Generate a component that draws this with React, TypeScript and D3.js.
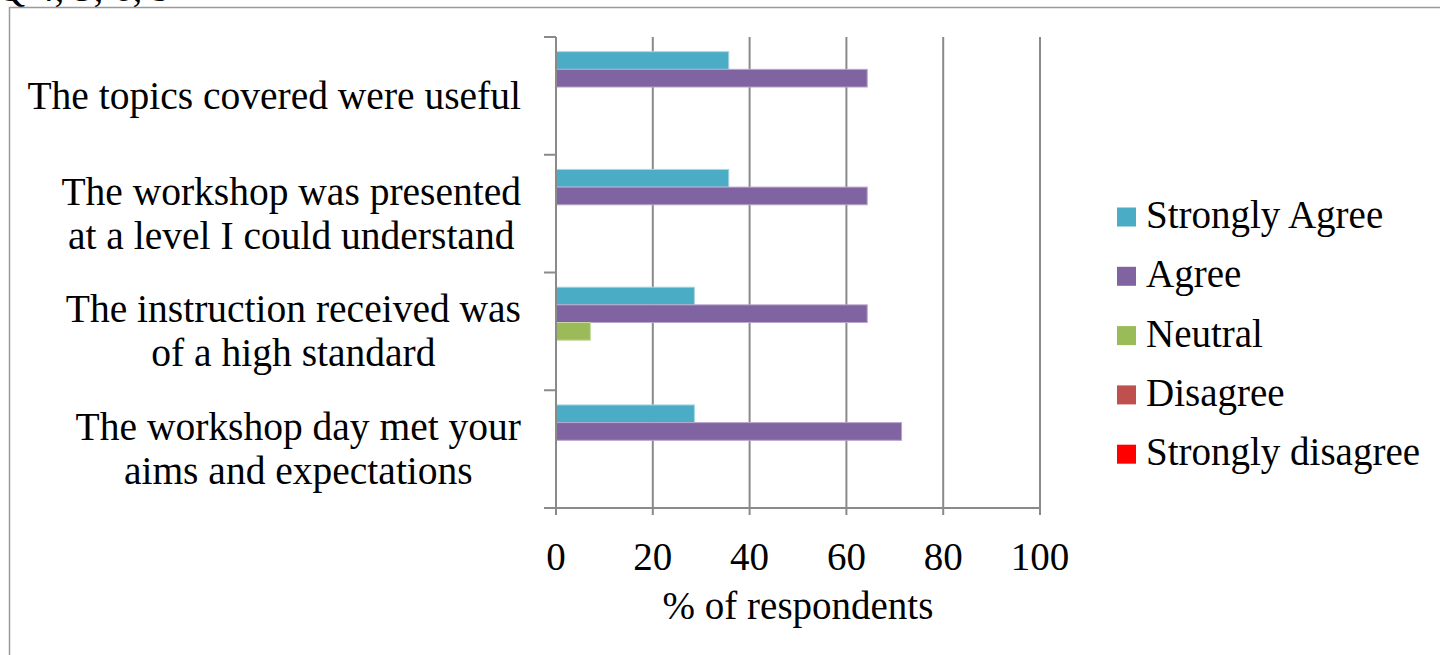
import React from "react";
import * as d3 from "d3";

// Survey statements (top to bottom) and response shares in % of respondents
const categories = [
  ["The topics covered were useful"],
  ["The workshop was presented", "at a level I could understand"],
  ["The instruction received was", "of a high standard"],
  ["The workshop day met your", "aims and expectations"],
];
const seriesNames = ["Strongly Agree", "Agree", "Neutral", "Disagree", "Strongly disagree"];
const seriesColors = ["#4BACC6", "#8064A2", "#9BBB59", "#C0504D", "#FF0000"];
const seriesStrokes = ["#a8d6e3", "#b6a6cc", "#c6d9a2", "#dea5a3", "#ff9a9a"];
const stronglyAgree = [35.7, 35.7, 28.6, 28.6];
const agree = [64.3, 64.3, 64.3, 71.4];
const neutral = [0, 0, 7.1, 0];
const disagree = [0, 0, 0, 0];
const stronglyDisagree = [0, 0, 0, 0];
const xTicks = [0, 20, 40, 60, 80, 100];

const values = [stronglyAgree, agree, neutral, disagree, stronglyDisagree];
const FONT = "'Liberation Serif', 'Times New Roman', serif";
const FS = 39;
const CAT_FS = 39.5;
const AXIS = "#8a8a8a";
const AXIS_W = 2;

// width of a line of text in the label font, used to centre wrapped lines
function measure(text: string, size: number): number {
  const canvas = document.createElement("canvas");
  const ctx = canvas.getContext("2d");
  if (!ctx) return text.length * size * 0.42;
  ctx.font = `${size}px 'Liberation Serif'`;
  return ctx.measureText(text).width;
}

export default function App() {
  const W = 1443;
  const H = 655;
  const x = d3.scaleLinear().domain([0, 100]).range([556, 1040]);
  const catKeys = categories.map((_, i) => String(i));
  const y = d3.scaleBand<string>().domain(catKeys).range([37, 508]).paddingInner(0).paddingOuter(0);
  const inner = d3
    .scaleBand<string>()
    .domain(seriesNames)
    .range([0, y.bandwidth()])
    .paddingInner(0)
    .paddingOuter(0.83);

  const bottom = 508;
  const lineH = 44;
  const labelRight = 521;

  return (
    <svg
      width={W}
      height={H}
      style={{ position: "absolute", left: 0, top: 0, background: "#fff" }}
      fontFamily={FONT}
    >
      {/* heading running off the top of the page */}
      <text x={-3} y={1} fontSize={FS} fill="#000">Q 4, 5, 6, 9</text>

      {/* outer frame */}
      <line x1={9} x2={1440} y1={7.5} y2={7.5} stroke="#9a9a9a" strokeWidth={1.5} />
      <line x1={9.5} x2={9.5} y1={7} y2={H} stroke="#9a9a9a" strokeWidth={1.5} />

      {/* vertical gridlines */}
      {xTicks.slice(1).map((t) => (
        <line key={"g" + t} x1={x(t)} x2={x(t)} y1={37} y2={bottom} stroke={AXIS} strokeWidth={AXIS_W} />
      ))}

      {/* bars */}
      {categories.map((_, ci) =>
        seriesNames.map((s, si) => {
          const v = values[si][ci];
          if (!v) return null;
          const top = (y(String(ci)) as number) + (inner(s) as number);
          return (
            <rect
              key={ci + "-" + si}
              x={x(0)}
              y={top}
              width={x(v) - x(0)}
              height={inner.bandwidth()}
              fill={seriesColors[si]}
              stroke={seriesStrokes[si]}
              strokeWidth={1}
            />
          );
        })
      )}

      {/* category axis */}
      <line x1={x(0)} x2={x(0)} y1={37} y2={bottom + 7} stroke={AXIS} strokeWidth={AXIS_W} />
      {catKeys.concat(["end"]).map((k, i) => {
        const yy = i < catKeys.length ? (y(k) as number) : bottom;
        return <line key={"yt" + i} x1={544} x2={x(0)} y1={yy} y2={yy} stroke={AXIS} strokeWidth={AXIS_W} />;
      })}

      {/* value axis */}
      <line x1={544} x2={x(100)} y1={bottom} y2={bottom} stroke={AXIS} strokeWidth={AXIS_W} />
      {xTicks.map((t) => (
        <g key={"xt" + t}>
          <line x1={x(t)} x2={x(t)} y1={bottom} y2={bottom + 7} stroke={AXIS} strokeWidth={AXIS_W} />
          <text x={x(t)} y={570} fontSize={FS} textAnchor="middle" fill="#000">
            {t}
          </text>
        </g>
      ))}
      <text x={798} y={619} fontSize={FS} textAnchor="middle" fill="#000">
        % of respondents
      </text>

      {/* category labels: block right-aligned, lines centred within it */}
      {categories.map((lines, ci) => {
        const cy = (y(String(ci)) as number) + y.bandwidth() / 2;
        const first = cy - ((lines.length - 1) * lineH) / 2;
        const widest = Math.max(...lines.map((ln) => measure(ln, CAT_FS)));
        const cx = labelRight - widest / 2;
        return (
          <text key={"cl" + ci} fontSize={CAT_FS} textAnchor="middle" fill="#000">
            {lines.map((ln, li) => (
              <tspan key={li} x={cx} y={first + li * lineH + 13}>
                {ln}
              </tspan>
            ))}
          </text>
        );
      })}

      {/* legend */}
      {seriesNames.map((s, i) => {
        const cy = 217 + i * 59.3;
        return (
          <g key={"lg" + i}>
            <rect x={1117} y={cy - 9.5} width={19} height={19} fill={seriesColors[i]} />
            <text x={1146} y={cy + 11} fontSize={FS} fill="#000">
              {s}
            </text>
          </g>
        );
      })}
    </svg>
  );
}
